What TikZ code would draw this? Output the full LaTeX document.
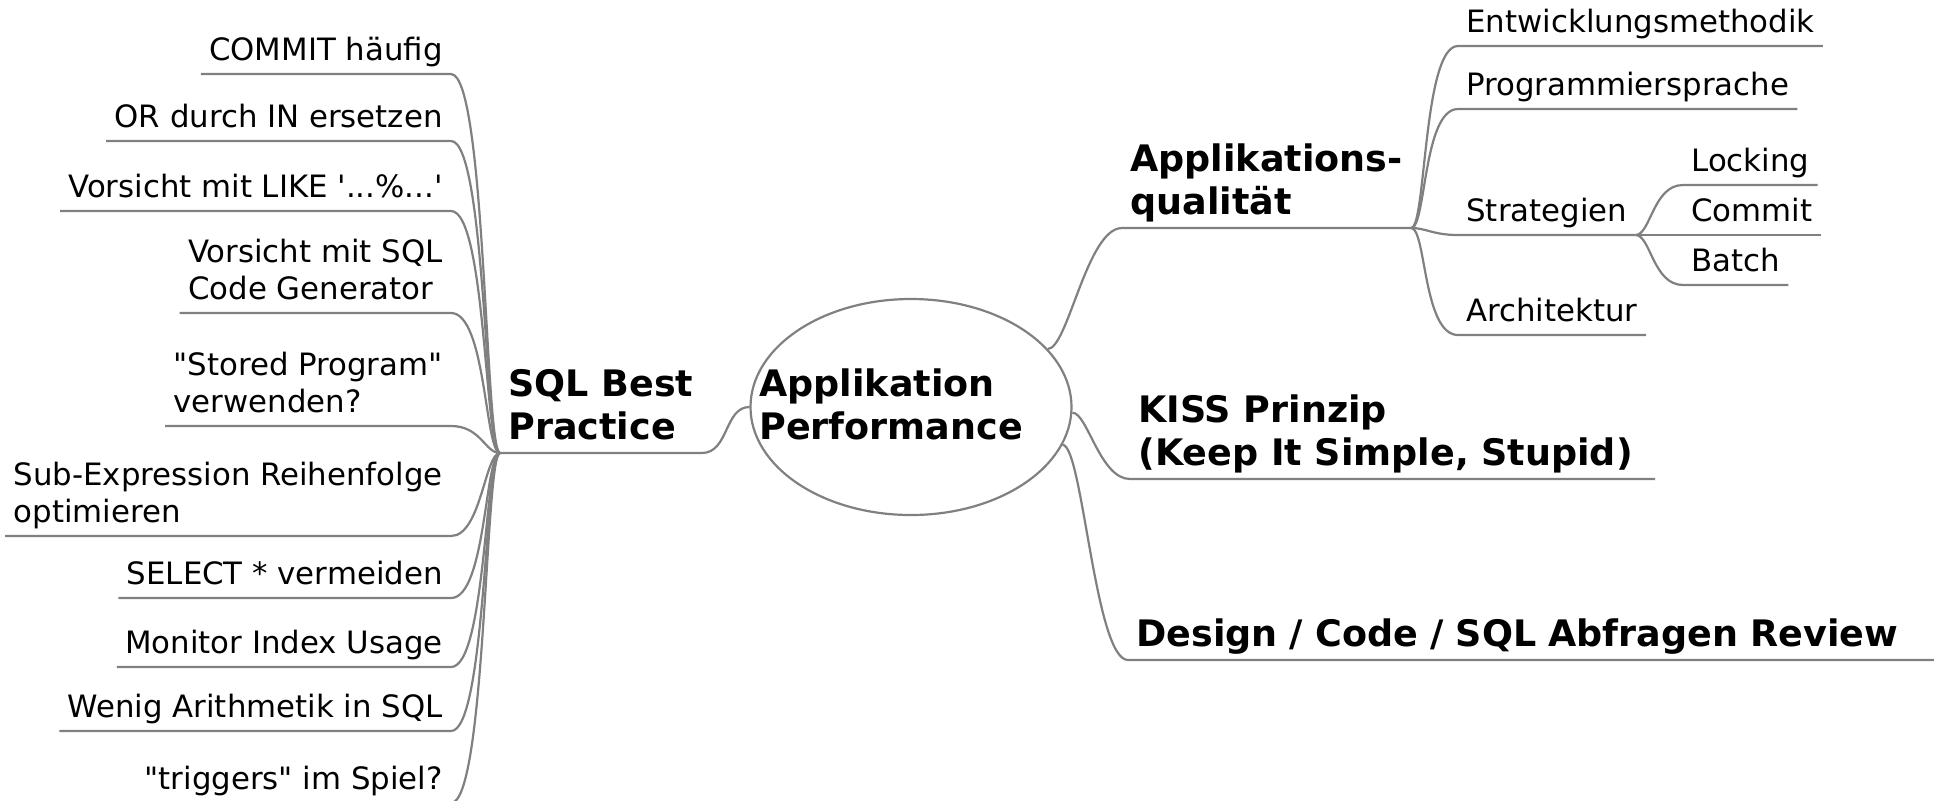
\documentclass[tikz,border=0pt]{standalone}
\usepackage{fontspec}
\setmainfont{DejaVu Sans}[Ligatures=TeXOff]
\usetikzlibrary{shapes.geometric}

\tikzset{
  branch/.style={draw=gray, line width=1.1pt},
  leaf/.style={inner xsep=4pt, inner ysep=6.5pt, text depth=0pt, align=left,
    font=\fontsize{15.4pt}{18.75pt}\selectfont},
  topic/.style={inner xsep=4pt, inner ysep=6.5pt, text depth=0pt, align=left,
    font=\fontsize{18.25pt}{21.5pt}\selectfont\bfseries},
  bubble/.style={ellipse, draw=gray, line width=1.1pt, inner sep=0pt,
    minimum width=160.5pt, minimum height=108pt},
}

\begin{document}
\begin{tikzpicture}[x=0.5pt, y=-0.5pt]
\useasboundingbox (0,0) rectangle (1941,800);

% centre
\node[bubble] (perf) at (911,407) {};
\node[topic, anchor=base west] (perftxt) at (751,439) {Applikation\\Performance};

% left: SQL Best Practice
\node[topic, anchor=south west] (sql) at (500,453) {SQL Best\\Practice};
\node[leaf, anchor=south east] (commit) at (451,74) {COMMIT häufig};
\node[leaf, anchor=south east] (orin) at (451,141) {OR durch IN ersetzen};
\node[leaf, anchor=south east] (like) at (451,211) {Vorsicht mit LIKE '...\%...'};
\node[leaf, anchor=south east] (codegen) at (451,313) {Vorsicht mit SQL\\Code Generator};
\node[leaf, anchor=south east] (stored) at (451,426) {"Stored Program"\\verwenden?};
\node[leaf, anchor=south east] (subexpr) at (451,536) {Sub-Expression Reihenfolge\\optimieren};
\node[leaf, anchor=south east] (select) at (451,598) {SELECT * vermeiden};
\node[leaf, anchor=south east] (monitor) at (451,667) {Monitor Index Usage};
\node[leaf, anchor=south east] (arith) at (451,731) {Wenig Arithmetik in SQL};
\node[leaf, anchor=south east] (trigger) at (451,803) {"triggers" im Spiel?};

\draw[branch] (perf.west) .. controls +(-25,0) and +(27,0) .. (sql.south east) -- (sql.south west);
\draw[branch] (sql.south west) .. controls +(-15,0) and +(35,0) .. (commit.south east) -- (commit.south west);
\draw[branch] (sql.south west) .. controls +(-15,0) and +(35,0) .. (orin.south east) -- (orin.south west);
\draw[branch] (sql.south west) .. controls +(-15,0) and +(35,0) .. (like.south east) -- (like.south west);
\draw[branch] (sql.south west) .. controls +(-15,0) and +(35,0) .. (codegen.south east) -- (codegen.south west);
\draw[branch] (sql.south west) .. controls +(-15,0) and +(30,0) .. (stored.south east) -- (stored.south west);
\draw[branch] (sql.south west) .. controls +(-15,0) and +(30,0) .. (subexpr.south east) -- (subexpr.south west);
\draw[branch] (sql.south west) .. controls +(-15,0) and +(35,0) .. (select.south east) -- (select.south west);
\draw[branch] (sql.south west) .. controls +(-15,0) and +(35,0) .. (monitor.south east) -- (monitor.south west);
\draw[branch] (sql.south west) .. controls +(-15,0) and +(35,0) .. (arith.south east) -- (arith.south west);
\draw[branch] (sql.south west) .. controls +(-15,0) and +(35,0) .. (trigger.south east) -- (trigger.south west);

% right: main topics
\node[topic, anchor=south west] (qual) at (1122,228) {Applikations-\\qualität};
\node[topic, anchor=south west] (kiss) at (1130,479) {KISS Prinzip\\(Keep It Simple, Stupid)\hspace*{7pt}};
\node[topic, anchor=south west, text width=394.5pt] (review) at (1128,660) {Design / Code / SQL Abfragen Review};

\draw[branch] (perf.23) .. controls +(20,0) and +(-35,0) .. (qual.south west) -- (qual.south east);
\draw[branch] (perf.-2) .. controls +(15,0) and +(-30,0) .. (kiss.south west) -- (kiss.south east);
\draw[branch] (perf.-14) .. controls +(20,0) and +(-33,0) .. (review.south west) -- (review.south east);

% right: Applikationsqualitaet
\node[leaf, anchor=south west] (entw) at (1458,46) {Entwicklungsmethodik};
\node[leaf, anchor=south west] (prog) at (1458,109) {Programmiersprache};
\node[leaf, anchor=south west] (strat) at (1458,235) {Strategien};
\node[leaf, anchor=south west] (arch) at (1458,335) {Architektur};

\draw[branch] (qual.south east) .. controls +(15,0) and +(-35,0) .. (entw.south west) -- (entw.south east);
\draw[branch] (qual.south east) .. controls +(15,0) and +(-35,0) .. (prog.south west) -- (prog.south east);
\draw[branch] (qual.south east) .. controls +(15,0) and +(-25,0) .. (strat.south west) -- (strat.south east);
\draw[branch] (qual.south east) .. controls +(15,0) and +(-35,0) .. (arch.south west) -- (arch.south east);

% right: Strategien
\node[leaf, anchor=south west] (lock) at (1683,185) {Locking};
\node[leaf, anchor=south west] (commitb) at (1683,235) {Commit};
\node[leaf, anchor=south west] (batch) at (1683,285) {Batch};

\draw[branch] (strat.south east) .. controls +(15,0) and +(-30,0) .. (lock.south west) -- (lock.south east);
\draw[branch] (strat.south east) -- (commitb.south west) -- (commitb.south east);
\draw[branch] (strat.south east) .. controls +(15,0) and +(-30,0) .. (batch.south west) -- (batch.south east);
\end{tikzpicture}
\end{document}
